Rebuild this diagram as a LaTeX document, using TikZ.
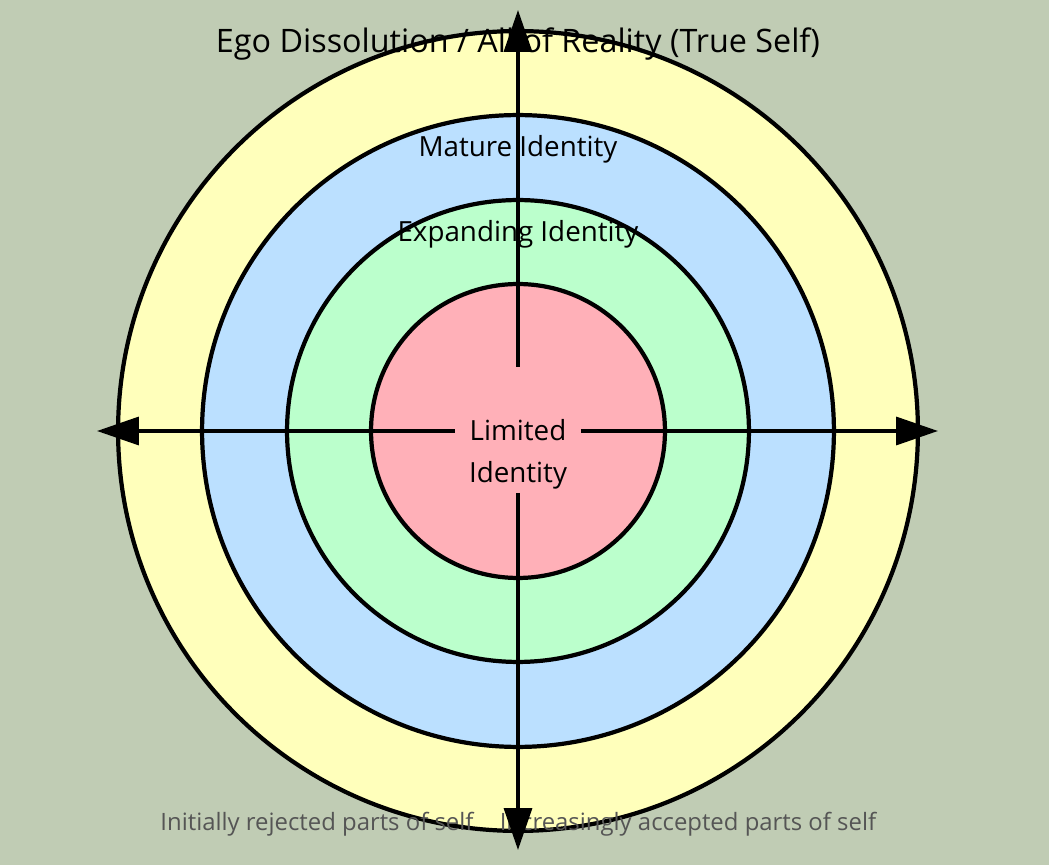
\documentclass[tikz,border=0pt]{standalone}
\usepackage{fontspec}
\setmainfont{Open Sans}
\usepackage{xcolor}
\usepackage{tikz}
\usetikzlibrary{arrows.meta}
\usetikzlibrary{positioning}

\definecolor{bgsage}{RGB}{192,204,180}
\definecolor{selfyellow}{RGB}{255,255,187}
\definecolor{matureblue}{RGB}{187,224,255}
\definecolor{expandgreen}{RGB}{187,255,204}
\definecolor{limitedpink}{RGB}{255,176,184}
\definecolor{sidegrey}{RGB}{85,85,85}

\begin{document}
\begin{tikzpicture}[
    x = 0.02cm,
    y = 0.02cm]
    \tikzstyle{ring}=[circle,draw=black,line width=2.4pt,inner sep=0pt]
    \tikzstyle{axis}=[line width=2pt,-{Triangle[length=0.84cm,width=0.56cm]}]
    \tikzstyle{lbl}=[font=\fontsize{15.8}{24}\selectfont,inner sep=0pt]
    \tikzstyle{side}=[font=\fontsize{13.6}{16}\selectfont,text=sidegrey,inner sep=0pt]
    \fill[bgsage] (-518,-434) rectangle (531,431);
    \useasboundingbox (-518,-434) rectangle (531,431);
    % rings, outer to inner
    \node[ring,fill=selfyellow,minimum size=16cm] (self) at (0,0) {};
    \node[ring,fill=matureblue,minimum size=12.64cm] (mature) at (0,0) {};
    \node[ring,fill=expandgreen,minimum size=9.24cm] (expand) at (0,0) {};
    \node[ring,fill=limitedpink,minimum size=5.88cm] (limited) at (0,0) {};
    % labels
    \node[lbl,font=\fontsize{18.4}{22}\selectfont] (selflabel) at (0,387) {Ego Dissolution / All of Reality (True Self)};
    \node[lbl] (maturelabel) at (0,282) {Mature Identity};
    \node[lbl] (expandlabel) at (0,197) {Expanding Identity};
    \node[lbl,align=center] (limitedlabel) at (0,-23.5) {Limited\\Identity};
    \node[side] (rejected) at (-201,-393) {Initially rejected parts of self};
    \node[side] (accepted) at (170,-393) {Increasingly accepted parts of self};
    % axes
    \coordinate (n0) at (0,64);   \coordinate (n1) at (0,421);
    \coordinate (s0) at (0,-62);  \coordinate (s1) at (0,-419);
    \coordinate (w0) at (-63,0);  \coordinate (w1) at (-421,0);
    \coordinate (e0) at (63,0);   \coordinate (e1) at (420,0);
    \draw[axis] (n0) -- (n1);
    \draw[axis] (s0) -- (s1);
    \draw[axis] (w0) -- (w1);
    \draw[axis] (e0) -- (e1);
\end{tikzpicture}
\end{document}
